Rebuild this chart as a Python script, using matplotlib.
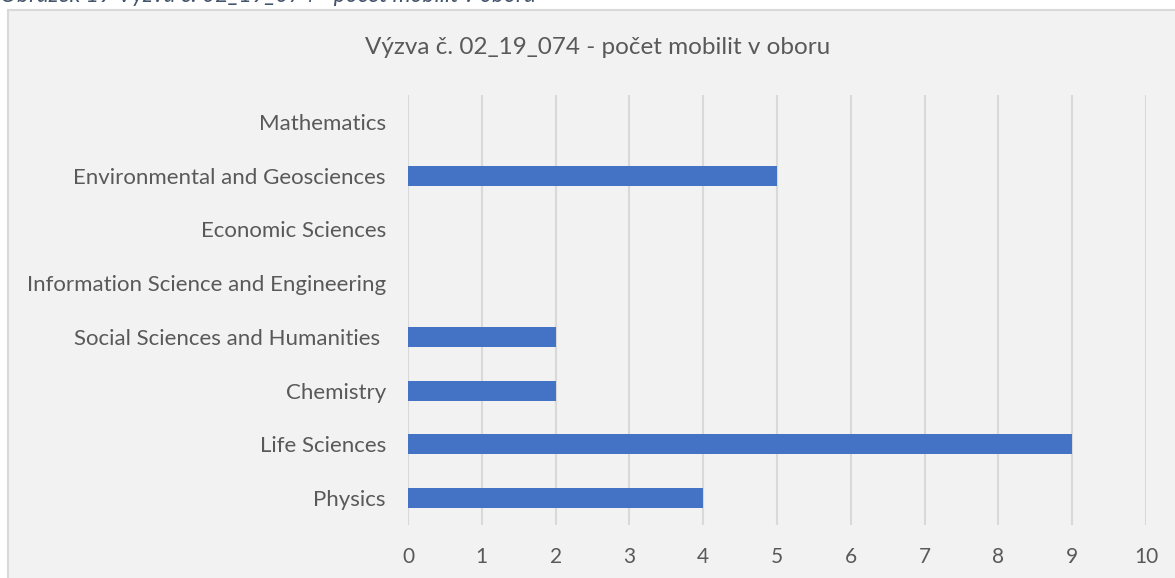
import matplotlib.pyplot as plt
from matplotlib.patches import Rectangle

# data (bottom to top, as in the chart)
categories = ["Physics", "Life Sciences", "Chemistry", "Social Sciences and Humanities ",
              "Information Science and Engineering", "Economic Sciences",
              "Environmental and Geosciences", "Mathematics"]
mobilities = [4, 9, 2, 2, 0, 0, 5, 0]
x_ticks = [0, 1, 2, 3, 4, 5, 6, 7, 8, 9, 10]

title = "Výzva č. 02_19_074 - počet mobilit v oboru"
caption = "Obrázek 19 Výzva č. 02_19_074 - počet mobilit v oboru"

plt.rcParams['font.family'] = ['Lato', 'DejaVu Sans']
grey = "#595959"

W, H = 1175, 578
fig = plt.figure(figsize=(W / 100, H / 100), dpi=100)
fig.patch.set_facecolor("white")

# chart area box (runs off the right and bottom of the picture)
fig.patches.append(Rectangle((8 / W, -0.05), 1.2, 1 - 10 / H + 0.05, transform=fig.transFigure,
                             facecolor="#f2f2f2", edgecolor="#d9d9d9", linewidth=1.5, zorder=-10))

# caption of the figure, mostly cut off at the top
fig.text(0 / W, 1 - 2 / H, caption, fontsize=16.5, style="italic", color="#44546a",
         ha="left", va="baseline")

ax = fig.add_axes([408 / W, 1 - 525 / H, (1146 - 408) / W, (525 - 95) / H])
ax.set_facecolor("none")

ypos = list(range(len(categories)))
ax.barh(ypos, mobilities, height=0.37, color="#4472c4", zorder=3)

ax.set_xlim(0, 10)
ax.set_ylim(-0.5, len(categories) - 0.5)
ax.set_xticks(x_ticks)
ax.set_yticks(ypos)
ax.set_yticklabels(categories)
ax.grid(axis="x", color="#d9d9d9", linewidth=1.5, zorder=0)
ax.set_axisbelow(True)
for s in ax.spines.values():
    s.set_visible(False)
ax.tick_params(axis="x", length=0, pad=16, labelsize=15, labelcolor=grey)
ax.tick_params(axis="y", length=0, pad=16, labelsize=16, labelcolor=grey)

fig.text((365 + 830) / 2 / W, 1 - 47 / H, title, fontsize=17.5, color=grey,
         ha="center", va="center")

fig.savefig("out.png", dpi=100)
